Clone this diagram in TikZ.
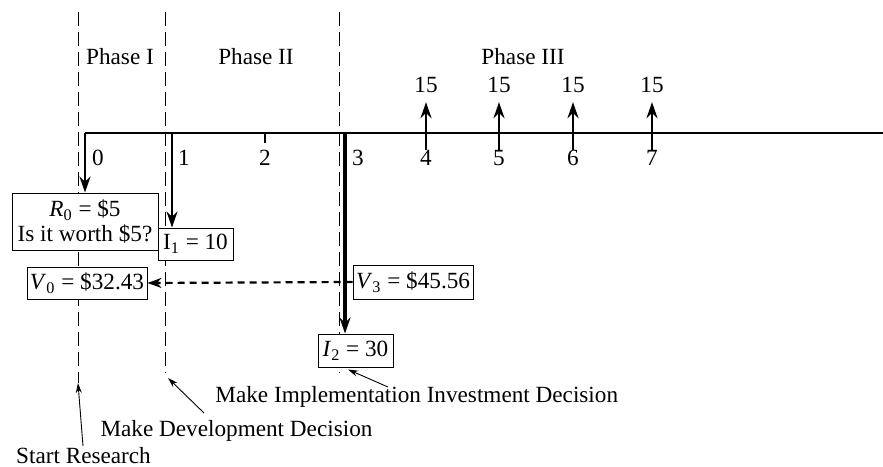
\documentclass[tikz,border=0pt]{standalone}
\usepackage{fontspec}
\setmainfont{Liberation Serif}
\usetikzlibrary{arrows.meta}
\newcommand{\lblfont}{\fontsize{11.6}{12.5}\selectfont}
\tikzset{
  lbl/.style={font=\lblfont,inner sep=0pt},
  valbox/.style={draw,fill=white,line width=0.5pt,inner sep=1pt,font=\lblfont,align=center},
  phaseline/.style={line width=0.4pt,dash pattern=on 7pt off 3pt},
  flow/.style={-{Stealth[length=8pt,width=5.5pt]},line width=1.2pt},
  pointer/.style={-{Stealth[length=5pt,width=3pt]},line width=0.45pt}
}

\begin{document}
\begin{tikzpicture}[x=0.5pt,y=-0.5pt]
  \useasboundingbox (0,0) rectangle (883,466);
  % phase boundaries
  \foreach \n/\x/\b in {0/78/383,1/165/373,2/339/373} {
    \coordinate (d\n top) at (\x,12);
    \coordinate (d\n end) at (\x,\b);
    \draw[phaseline] (d\n top) -- (d\n end);
  }
  \node[lbl] (ph1) at (120,57){Phase I};
  \node[lbl] (ph2) at (256,57){Phase II};
  \node[lbl] (ph3) at (523,57){Phase III};
  % time axis
  \foreach \i/\x/\lx in {0/85/98,1/172/184,2/265/265,3/345/358,4/426/426,5/499/499,6/573/573,7/652/652} {
    \coordinate (t\i) at (\x,133);
    \node[lbl] (n\i) at (\lx,158){\i};
  }
  \coordinate (tend) at (883,133);
  \draw[line width=0.8pt] (t0) -- (tend);
  \draw[line width=0.8pt] (t2) -- ++(0,10);
  % returns
  \foreach \i/\x in {4/426,5/499,6/573,7/652} {
    \coordinate (b\i) at (\x,150);
    \node[lbl] (r\i) at (\x,85){15};
    \draw[flow,shorten >=4.5pt] (b\i) -- (r\i.south);
  }
  % boxes
  \node[valbox,minimum width=73pt,minimum height=28.5pt] (R0) at (85,221.5)
    {\textit{R}\textsubscript{0} = \$5\\Is it worth \$5?};
  \node[valbox,minimum width=37.5pt,minimum height=16pt] (I1) at (195.5,244)
    {I\textsubscript{1} = 10};
  \node[valbox,minimum width=60pt,minimum height=16pt] (V0) at (87,283)
    {\textit{V}\textsubscript{0} = \$32.43};
  \node[valbox,minimum width=60pt,minimum height=17pt] (V3) at (413,282)
    {\textit{V}\textsubscript{3} = \$45.56};
  \node[valbox,minimum width=37.5pt,minimum height=16.5pt] (I2) at (355.5,350.5)
    {\textit{I}\textsubscript{2} = 30};
  \draw[-{Stealth[length=7pt,width=5pt]},line width=1.1pt,dash pattern=on 3.5pt off 2.5pt] (V3.west) -- (V0.east);
  \draw[flow] (t0) -- (t0 |- R0.north);
  \draw[flow] (t1) -- (t1 |- I1.north);
  \draw[flow,line width=1.8pt] (t3) -- (t3 |- I2.north);
  % decisions
  \node[lbl,anchor=west] (mi) at (215,397){Make Implementation Investment Decision};
  \node[lbl] (md) at (236.5,431){Make Development Decision};
  \node[lbl] (sr) at (83.5,456){Start Research};
  \coordinate (mitail) at (388,387);
  \coordinate (mdtail) at (204,413);
  \coordinate (srtail) at (83,446);
  \draw[pointer] (mitail) -- ([xshift=-3.75pt,yshift=-1pt]I2.south);
  \draw[pointer] (mdtail) -- ([xshift=1.5pt,yshift=-2.5pt]d1end);
  \draw[pointer] (srtail) -- (d0end);
\end{tikzpicture}
\end{document}
